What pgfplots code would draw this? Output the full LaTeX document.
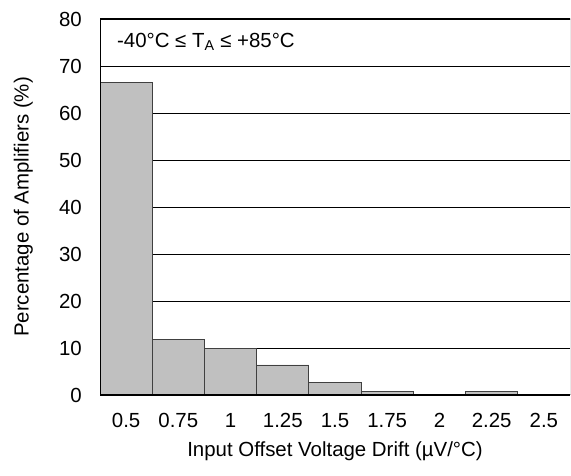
\documentclass[border=0pt]{standalone}
\usepackage{fontspec}
\setmainfont{Liberation Sans}
\usepackage{pgfplots}
\pgfplotsset{compat=1.18}
\usetikzlibrary{calc}
\definecolor{barfill}{HTML}{C0C0C0}
\definecolor{baredge}{HTML}{404040}
\begin{document}
\fontsize{20.5}{24}\selectfont
\begin{tikzpicture}
\begin{axis}[
  scale only axis, width=470bp, height=376bp,
  xmin=-0.5, xmax=8.5, ymin=0, ymax=80,
  ytick={0,10,...,80},
  xtick={0,...,8},
  xticklabels={0.5,0.75,1,1.25,1.5,1.75,2,2.25,2.5},
  ymajorgrids, grid style={black, line width=0.6pt},
  major tick length=0pt,
  axis line style={draw=none},
  /pgf/number format/assume math mode=true,
  tick label style={font=\fontsize{20.5}{24}\selectfont, inner sep=0pt},
  yticklabel style={xshift=-18bp},
  xticklabel style={yshift=-18bp},
  label style={font=\fontsize{20.5}{24}\selectfont, inner sep=0pt},
  xlabel={Input Offset Voltage Drift (µV/°C)},
  x label style={at={(axis description cs:0.5,0)}, anchor=north, yshift=-47bp},
  ybar, bar width=1,
]
\addplot[ybar, fill=barfill, draw=baredge, line width=0.8pt] coordinates {
  (0,66.5) (1,11.9) (2,9.9) (3,6.4) (4,2.6) (5,0.7) (6,0.15) (7,0.7) (8,0.15)
};
\coordinate (ll) at (rel axis cs:0,0);
\coordinate (ur) at (rel axis cs:1,1);
\coordinate (yl) at (rel axis cs:0,0.5);
\draw[black!70, line width=1pt] (rel axis cs:1,0) -- (rel axis cs:1,1);
\draw[black, line width=1.6pt, line cap=rect] (rel axis cs:1,1) -- (rel axis cs:0,1) -- (rel axis cs:0,0) -- (rel axis cs:1,0);
\node[anchor=base west, inner sep=0pt, font=\fontsize{20.5}{24}\selectfont] at (rel axis cs:0.036,0.9255) {-40°C ≤ T\textsubscript{A} ≤ +85°C};
\end{axis}
\node[rotate=90, anchor=south, inner sep=0pt, font=\fontsize{20.5}{24}\selectfont] at ($(yl)+(-67bp,0)$) {Percentage of Amplifiers (\%)};
\pgfresetboundingbox
\path[use as bounding box] ($(ll)+(-100bp,-81bp)$) rectangle ($(ur)+(1bp,19bp)$);
\end{tikzpicture}
\end{document}
